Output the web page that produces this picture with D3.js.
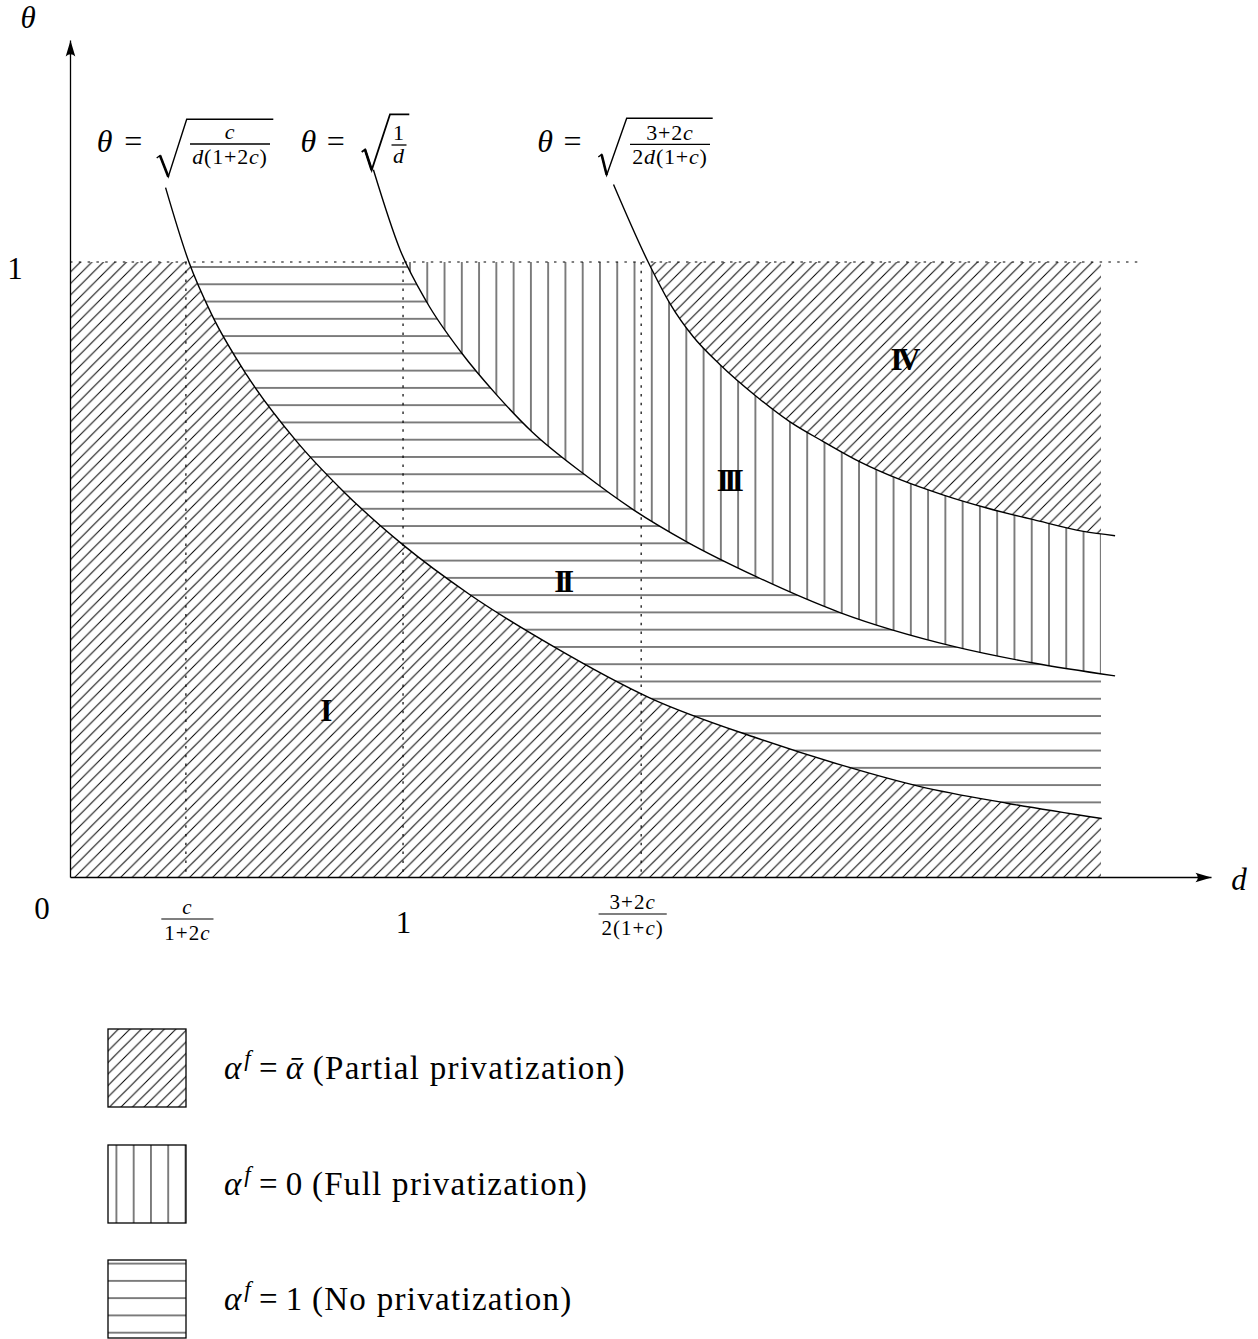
<!DOCTYPE html>
<meta charset="utf-8">
<style>

body { margin: 0; background: #fff; }
svg { display: block; }
text { font-family: "Liberation Serif", "DejaVu Serif", serif; fill: #000; }

</style>
<svg width="1258" height="1339"></svg>
<script src="https://cdn.jsdelivr.net/npm/d3@7/dist/d3.min.js"></script>
<script>

// boundary curves as [d, theta]
var lowCurve = [
  [0.287, 1.121], [0.357, 1.000], [0.426, 0.914], [0.531, 0.816], [0.681, 0.708],
  [0.821, 0.627], [1.000, 0.540], [1.201, 0.459], [1.451, 0.375], [1.742, 0.291],
  [2.062, 0.226], [2.322, 0.181], [2.553, 0.147], [2.813, 0.120], [3.098, 0.095]
];
var midCurve = [
  [0.911, 1.150], [0.991, 1.020], [1.071, 0.935], [1.176, 0.852], [1.281, 0.784],
  [1.387, 0.724], [1.541, 0.656], [1.692, 0.597], [1.852, 0.545], [2.062, 0.488],
  [2.312, 0.430], [2.653, 0.375], [2.893, 0.348], [3.138, 0.327]
];
var highCurve = [
  [1.632, 1.126], [1.736, 1.000], [1.802, 0.932], [1.872, 0.878], [1.952, 0.833],
  [2.062, 0.781], [2.162, 0.740], [2.262, 0.708], [2.372, 0.675], [2.493, 0.646],
  [2.623, 0.621], [2.753, 0.600], [2.893, 0.581], [3.043, 0.562], [3.138, 0.555]
];

var dTicks = [0.348, 1, 1.715];
var dTickLabels = [["c", "1+2c"], ["1"], ["3+2c", "2(1+c)"]];
var thetaTicks = [1];
var dEdge = 3.096, dDotted = 3.222, dAxisEnd = 3.426, thetaAxisEnd = 1.361;

var regionNames = ["I", "II", "III", "IV"];
var regionD = [0.763, 1.477, 1.976, 2.502];
var regionTheta = [0.271, 0.481, 0.644, 0.841];

var curveNum = ["c", "1", "3+2c"];
var curveDen = ["d(1+2c)", "d", "2d(1+c)"];

var legendValues = ["\u1FB1", "0", "1"];
var legendNames = ["(Partial privatization)", "(Full privatization)", "(No privatization)"];

var svg = d3.select("svg");

var x = d3.scaleLinear().domain([0, dAxisEnd]).range([70, 1211]),
    y = d3.scaleLinear().domain([0, thetaAxisEnd]).range([877, 40]);

var defs = svg.append("defs");
var P = 17.27;

function pattern(id, w, h, px, py, d) {
  var p = defs.append("pattern")
      .attr("id", id)
      .attr("patternUnits", "userSpaceOnUse")
      .attr("width", w).attr("height", h)
      .attr("x", px).attr("y", py);
  p.append("rect").attr("width", w).attr("height", h).attr("fill", "#fff");
  p.append("path").attr("d", d).attr("stroke", "#000").attr("stroke-width", 1).attr("fill", "none");
}

pattern("diag", 11.5, 11.5, 9, 0, "M-1,1L1,-1M0,11.5L11.5,0M10.5,12.5L12.5,10.5");
pattern("horiz", 20, P, 0, 267 - P / 2, "M0," + P / 2 + "H20");
pattern("vert", P, 20, 410 - P / 2, 0, "M" + P / 2 + ",0V20");
pattern("horizKey", 20, P, 0, 1263.6 - P / 2, "M0," + P / 2 + "H20");

defs.append("marker")
    .attr("id", "arrow")
    .attr("markerUnits", "userSpaceOnUse")
    .attr("viewBox", "-18 -6 19 12")
    .attr("markerWidth", 19).attr("markerHeight", 12)
    .attr("refX", 0).attr("refY", 0)
    .attr("orient", "auto")
  .append("path")
    .attr("d", "M0,0L-16,-4.8Q-11.5,0 -16,4.8Z");

defs.append("clipPath").attr("id", "plot")
  .append("rect")
    .attr("x", x(0)).attr("y", y(1))
    .attr("width", x(dEdge) - x(0))
    .attr("height", y(0) - y(1));

var line = d3.line()
    .x(function(d) { return x(d[0]); })
    .y(function(d) { return y(d[1]); })
    .curve(d3.curveMonotoneX);

// everything under a curve, closed down to the axes
function below(c) {
  var last = c[c.length - 1];
  return line(c) + "L" + x(last[0]) + "," + y(0) + "L" + x(0) + "," + y(0) +
      "L" + x(0) + "," + y(c[0][1]) + "Z";
}

var regions = svg.append("g").attr("clip-path", "url(#plot)");
regions.append("rect")
    .attr("x", x(0)).attr("y", y(1))
    .attr("width", x(dEdge) - x(0)).attr("height", y(0) - y(1))
    .attr("fill", "url(#diag)");
regions.append("path").attr("d", below(highCurve)).attr("fill", "url(#vert)");
regions.append("path").attr("d", below(midCurve)).attr("fill", "url(#horiz)");
regions.append("path").attr("d", below(lowCurve)).attr("fill", "url(#diag)");

// dotted guides
var dots = svg.append("g")
    .attr("stroke", "#000")
    .attr("stroke-width", 1.2)
    .attr("stroke-dasharray", "2.5,6.3");
dots.append("line")
    .attr("x1", x(0)).attr("x2", x(dDotted))
    .attr("y1", y(1)).attr("y2", y(1));
dots.selectAll(".vdot")
  .data(dTicks)
  .enter().append("line")
    .attr("x1", function(d) { return x(d); })
    .attr("x2", function(d) { return x(d); })
    .attr("y1", y(1)).attr("y2", y(0));

svg.append("g").selectAll("path")
  .data([lowCurve, midCurve, highCurve])
  .enter().append("path")
    .attr("d", line)
    .attr("fill", "none")
    .attr("stroke", "#000")
    .attr("stroke-width", 1.4);

// math text: letters in italic, the rest upright
function mathText(sel, str) {
  str.match(/[a-z\u03b8\u03b1]+|[^a-z\u03b8\u03b1]+/g).forEach(function(run) {
    sel.append("tspan")
        .style("font-style", /[a-z\u03b8\u03b1]/.test(run) ? "italic" : "normal")
        .text(run);
  });
}

// axes
var xAxis = svg.append("g")
    .attr("transform", "translate(0," + y(0) + ")")
    .call(d3.axisBottom(x).tickValues(dTicks).tickSize(0).tickSizeOuter(0).tickFormat(""));
xAxis.select(".domain")
    .attr("stroke-width", 1.3)
    .attr("marker-end", "url(#arrow)");

var tickLayout = [{num: 37, bar: 42, den: 63, dx: 1}, {num: 56}, {num: 32, bar: 37, den: 58, dx: -9}];

xAxis.selectAll(".tick").each(function(d, i) {
  var g = d3.select(this), lab = dTickLabels[i], lay = tickLayout[i];
  if (lab.length === 1) {
    g.append("text").attr("y", lay.num).attr("text-anchor", "middle")
        .style("font-size", "31px").text(lab[0]);
    return;
  }
  var num = g.append("text").attr("x", lay.dx).attr("y", lay.num).attr("text-anchor", "middle")
      .style("font-size", "21px").style("letter-spacing", "1px");
  mathText(num, lab[0]);
  var den = g.append("text").attr("x", lay.dx).attr("y", lay.den).attr("text-anchor", "middle")
      .style("font-size", "21px").style("letter-spacing", "1px");
  mathText(den, lab[1]);
  var w = Math.max(num.node().getComputedTextLength(), den.node().getComputedTextLength()) + 6;
  g.append("line")
      .attr("x1", lay.dx - w / 2).attr("x2", lay.dx + w / 2)
      .attr("y1", lay.bar).attr("y2", lay.bar)
      .attr("stroke", "#000").attr("stroke-width", 1.2);
});

xAxis.append("text")
    .attr("x", x(0) - 28).attr("y", 42)
    .attr("text-anchor", "middle")
    .style("font-size", "31px")
    .text("0");

xAxis.append("text")
    .attr("x", x(dAxisEnd) + 28).attr("y", 13)
    .attr("text-anchor", "middle")
    .style("font-size", "31px").style("font-style", "italic")
    .text("d");

var yAxis = svg.append("g")
    .attr("transform", "translate(" + x(0) + ",0)")
    .call(d3.axisLeft(y).tickValues(thetaTicks).tickSize(0).tickSizeOuter(0).tickFormat(""));
yAxis.select(".domain")
    .attr("stroke-width", 1.3)
    .attr("marker-end", "url(#arrow)");
yAxis.selectAll(".tick").append("text")
    .attr("x", -55).attr("y", 16)
    .attr("text-anchor", "middle")
    .style("font-size", "31px")
    .text(function(d) { return d; });
yAxis.append("text")
    .attr("x", -42).attr("y", 28)
    .attr("text-anchor", "middle")
    .style("font-size", "31px").style("font-style", "italic")
    .text("\u03b8");

// curve formulas: theta = sqrt(num / den)
var labelLayout = [
  {theta: 104.7, eq: 133.3, base: 151.5, rad: [[156.7, 158], [160, 155.5], [168.3, 176.7], [186.7, 119.3], [273.3, 119.3]], fx: 230, bar: 144, bw: 80, nb: 138.5, db: 164},
  {theta: 308.3, eq: 335.8, base: 151.5, rad: [[361.7, 152], [365, 149.5], [371.7, 170], [390, 114.3], [409.3, 114.3]], fx: 399, bar: 145, bw: 15, nb: 140, db: 163},
  {theta: 545, eq: 572.5, base: 151.5, rad: [[598.3, 157], [601.6, 154.5], [606.7, 175], [626.7, 118.3], [712.7, 118.3]], fx: 670, bar: 144.3, bw: 80, nb: 140, db: 164}
];

var labels = svg.append("g");
labelLayout.forEach(function(L, i) {
  labels.append("text").attr("x", L.theta).attr("y", L.base).attr("text-anchor", "middle")
      .style("font-size", "32px").style("font-style", "italic").text("\u03b8");
  labels.append("text").attr("x", L.eq).attr("y", L.base).attr("text-anchor", "middle")
      .style("font-size", "32px").text("=");
  labels.append("path")
      .attr("d", d3.line()(L.rad))
      .attr("fill", "none").attr("stroke", "#000")
      .attr("stroke-width", i === 1 ? 1.8 : 1.4)
      .attr("stroke-linejoin", "miter");
  labels.append("path")
      .attr("d", d3.line()(L.rad.slice(1, 3)))
      .attr("stroke", "#000").attr("stroke-width", 2.6);
  var n = labels.append("text").attr("x", L.fx).attr("y", L.nb).attr("text-anchor", "middle")
      .style("font-size", "22px").style("letter-spacing", "0.8px");
  mathText(n, curveNum[i]);
  var dd = labels.append("text").attr("x", L.fx).attr("y", L.db).attr("text-anchor", "middle")
      .style("font-size", "22px").style("letter-spacing", "0.8px");
  mathText(dd, curveDen[i]);
  labels.append("line")
      .attr("x1", L.fx - L.bw / 2).attr("x2", L.fx + L.bw / 2)
      .attr("y1", L.bar).attr("y2", L.bar)
      .attr("stroke", "#000").attr("stroke-width", 1.3);
});

// region numerals
svg.append("g").selectAll("text")
  .data(regionNames)
  .enter().append("text")
    .attr("x", function(d, i) { return x(regionD[i]); })
    .attr("y", function(d, i) { return y(regionTheta[i]) + 10.5; })
    .attr("text-anchor", "middle")
    .style("font-size", "31px")
    .style("font-weight", "bold")
    .style("letter-spacing", "-4.5px")
    .text(function(d) { return d; });

// legend
var keyFills = ["url(#diag)", "url(#vert)", "url(#horizKey)"];
var keyTop = [1029, 1145, 1260];

var key = svg.append("g").selectAll("g")
  .data(legendNames)
  .enter().append("g");

key.append("rect")
    .attr("x", 108).attr("y", function(d, i) { return keyTop[i]; })
    .attr("width", 78).attr("height", 78)
    .attr("fill", function(d, i) { return keyFills[i]; })
    .attr("stroke", "#000").attr("stroke-width", 1.3);

key.append("text")
    .attr("x", 224)
    .attr("y", function(d, i) { return keyTop[i] + 50; })
    .style("font-size", "33px")
    .each(function(d, i) {
      var t = d3.select(this);
      t.append("tspan").style("font-style", "italic").text("\u03b1");
      t.append("tspan").attr("dx", 3).attr("dy", -13).style("font-size", "23px").style("font-style", "italic").text("f");
      t.append("tspan").attr("dy", 13).text(" = ");
      t.append("tspan").style("font-style", i === 0 ? "italic" : "normal").text(legendValues[i]);
      t.append("tspan").style("letter-spacing", "1.3px").text(" " + d);
    });

</script>
